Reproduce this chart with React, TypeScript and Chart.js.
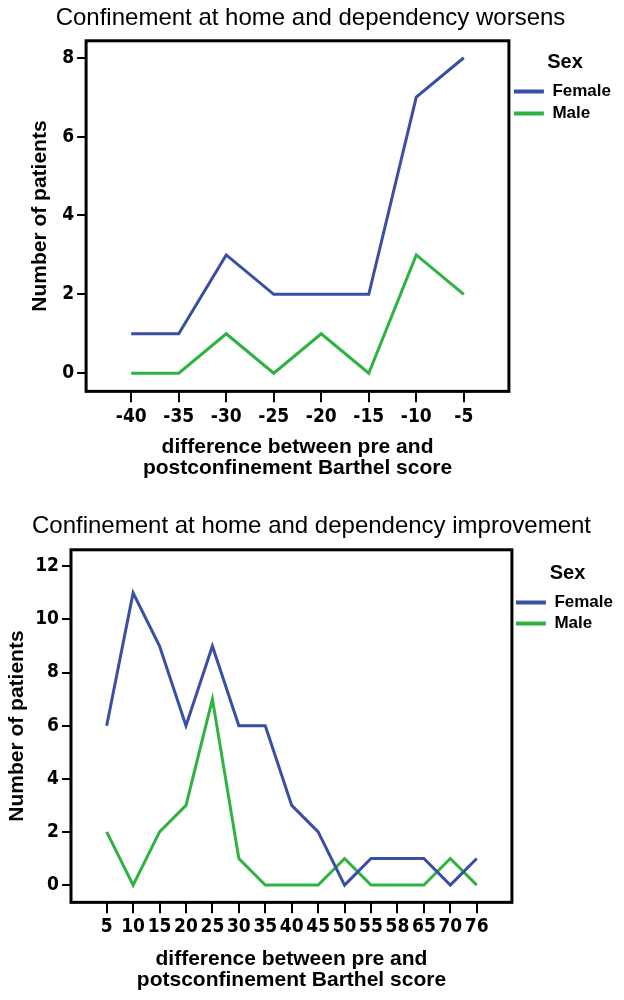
import { useEffect, useRef } from "react";
import { Chart, registerables } from "chart.js";

Chart.register(...registerables);

// worsens chart
const worsenLabels = ["-40", "-35", "-30", "-25", "-20", "-15", "-10", "-5"];
const worsenFemale = [1, 1, 3, 2, 2, 2, 7, 8];
const worsenMale = [0, 0, 1, 0, 1, 0, 3, 2];
const worsenYTicks = [0, 2, 4, 6, 8];

// improvement chart
const improveLabels = ["5", "10", "15", "20", "25", "30", "35", "40", "45", "50", "55", "58", "65", "70", "76"];
const improveFemale = [6, 11, 9, 6, 9, 6, 6, 3, 2, 0, 1, 1, 1, 0, 1];
const improveMale = [2, 0, 2, 3, 7, 1, 0, 0, 0, 1, 0, 0, 0, 1, 0];
const improveYTicks = [0, 2, 4, 6, 8, 10, 12];

const BLUE = "#3a4ea3";
const GREEN = "#2fb340";
const SANS = "'Liberation Sans', Arial, sans-serif";
const NARROW = "'Liberation Sans Narrow', 'Arial Narrow', 'DejaVu Sans Condensed', sans-serif";

const framePlugin = {
  id: "frame",
  afterDatasetsDraw(chart: Chart) {
    const { ctx, chartArea: a } = chart;
    ctx.save();
    ctx.strokeStyle = "#000";
    ctx.lineWidth = 3;
    ctx.strokeRect(a.left, a.top, a.right - a.left, a.bottom - a.top);
    ctx.restore();
  },
};

type Layout = {
  height: number;
  xRange: [number, number];
  yRange: [number, number];
  titlePad: { top: number; bottom: number };
  yTitlePad: { top: number; bottom: number };
  xTickPad: number;
  xTitlePad: { top: number; bottom: number };
  legendTitlePad: { top: number; bottom: number };
  legendPad: number;
  padRight: number;
};

function LineChart({
  title,
  labels,
  female,
  male,
  yTicks,
  xTitle,
  layout,
}: {
  title: string;
  labels: string[];
  female: number[];
  male: number[];
  yTicks: number[];
  xTitle: string[];
  layout: Layout;
}) {
  const canvasRef = useRef<HTMLCanvasElement>(null);
  const chartRef = useRef<Chart | null>(null);

  useEffect(() => {
    if (!canvasRef.current) return;
    chartRef.current?.destroy();
    chartRef.current = new Chart(canvasRef.current, {
      type: "line",
      data: {
        datasets: [
          {
            label: "Female",
            data: female.map((v, i) => ({ x: i, y: v })),
            borderColor: BLUE,
            backgroundColor: BLUE,
            borderWidth: 3,
            pointRadius: 0,
            tension: 0,
          },
          {
            label: "Male",
            data: male.map((v, i) => ({ x: i, y: v })),
            borderColor: GREEN,
            backgroundColor: GREEN,
            borderWidth: 3,
            pointRadius: 0,
            tension: 0,
          },
        ],
      },
      options: {
        responsive: true,
        maintainAspectRatio: false,
        animation: false,
        layout: { padding: { left: 0, right: layout.padRight, top: 0, bottom: 0 } },
        plugins: {
          tooltip: { enabled: false },
          title: {
            display: true,
            text: title,
            color: "#000",
            font: { family: SANS, size: 24, weight: "normal", lineHeight: 1.2 },
            padding: layout.titlePad,
          },
          legend: {
            position: "right",
            align: "start",
            title: {
              display: true,
              text: "Sex",
              color: "#000",
              font: { family: SANS, size: 20, weight: "bold", lineHeight: 1.2 },
              padding: layout.legendTitlePad,
            },
            labels: {
              color: "#000",
              font: { family: SANS, size: 17, weight: "bold" },
              boxWidth: 30,
              boxHeight: 4,
              padding: layout.legendPad,
              generateLabels: (chart: Chart) =>
                Chart.defaults.plugins.legend.labels
                  .generateLabels(chart)
                  .map((l) => ({ ...l, lineWidth: 0 })),
            },
          },
        },
        scales: {
          x: {
            type: "linear",
            min: layout.xRange[0],
            max: layout.xRange[1],
            afterBuildTicks: (scale) => {
              scale.ticks = labels.map((_, i) => ({ value: i }));
            },
            border: { display: false },
            grid: { drawOnChartArea: false, tickLength: 11, color: "#000", lineWidth: 2 },
            ticks: {
              autoSkip: false,
              maxRotation: 0,
              padding: layout.xTickPad,
              color: "#000",
              font: { family: NARROW, size: 19, weight: "bold", lineHeight: 1.2 },
              callback: (v) => labels[Number(v)] ?? "",
            },
            title: {
              display: true,
              text: xTitle,
              color: "#000",
              font: { family: SANS, size: 21, weight: "bold", lineHeight: 1.02 },
              padding: layout.xTitlePad,
            },
          },
          y: {
            type: "linear",
            min: layout.yRange[0],
            max: layout.yRange[1],
            afterBuildTicks: (scale) => {
              scale.ticks = yTicks.map((v) => ({ value: v }));
            },
            border: { display: false },
            grid: { drawOnChartArea: false, tickLength: 9, color: "#000", lineWidth: 2 },
            ticks: {
              padding: 3,
              color: "#000",
              font: { family: NARROW, size: 19, weight: "bold", lineHeight: 1.2 },
            },
            title: {
              display: true,
              text: "Number of patients",
              color: "#000",
              font: { family: SANS, size: 21, weight: "bold", lineHeight: 1.2 },
              padding: layout.yTitlePad,
            },
          },
        },
      },
      plugins: [framePlugin],
    });
    return () => chartRef.current?.destroy();
  }, [title, labels, female, male, yTicks, xTitle, layout]);

  return (
    <div style={{ position: "relative", width: 624, height: layout.height }}>
      <canvas ref={canvasRef} />
    </div>
  );
}

const worsenLayout: Layout = {
  height: 500,
  xRange: [-0.95, 7.95],
  yRange: [-0.46, 8.43],
  titlePad: { top: 4, bottom: 8 },
  yTitlePad: { top: 28, bottom: 6 },
  xTickPad: 3,
  xTitlePad: { top: 5, bottom: 21 },
  legendTitlePad: { top: 52, bottom: 2 },
  legendPad: 5,
  padRight: 3,
};

const improveLayout: Layout = {
  height: 500,
  xRange: [-1.35, 15.33],
  yRange: [-0.65, 12.62],
  titlePad: { top: 12, bottom: 9 },
  yTitlePad: { top: 5, bottom: 2 },
  xTickPad: 2,
  xTitlePad: { top: 8, bottom: 9 },
  legendTitlePad: { top: 63, bottom: 3 },
  legendPad: 4,
  padRight: 1,
};

export default function App() {
  useEffect(() => {
    document.body.style.margin = "0";
  }, []);

  return (
    <div style={{ width: 624, background: "#fff" }}>
      <LineChart
        title="Confinement at home and dependency worsens"
        labels={worsenLabels}
        female={worsenFemale}
        male={worsenMale}
        yTicks={worsenYTicks}
        xTitle={["difference between pre and", "postconfinement Barthel score"]}
        layout={worsenLayout}
      />
      <LineChart
        title="Confinement at home and dependency improvement"
        labels={improveLabels}
        female={improveFemale}
        male={improveMale}
        yTicks={improveYTicks}
        xTitle={["difference between pre and", "potsconfinement Barthel score"]}
        layout={improveLayout}
      />
    </div>
  );
}
